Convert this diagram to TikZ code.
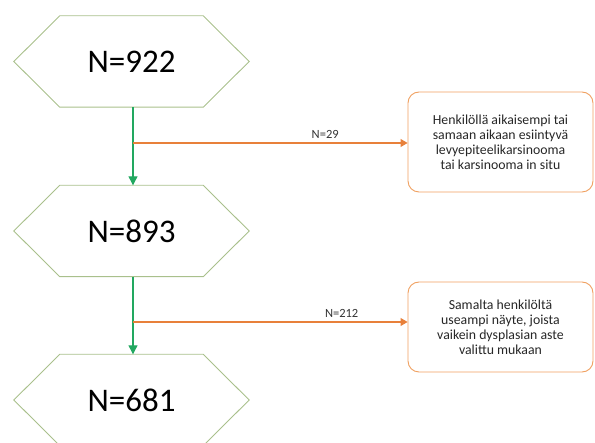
\documentclass[tikz,border=0pt]{standalone}
\usepackage{fontspec}
\setmainfont{Carlito}
\usetikzlibrary{arrows.meta,calc}
\definecolor{hexline}{HTML}{A9C08C}
\definecolor{flowgreen}{HTML}{22A860}
\definecolor{flowor}{HTML}{E8803A}
\definecolor{boxor}{HTML}{F0A060}
\tikzset{
  hexn/.style={draw=none,minimum width=235pt,minimum height=91pt,inner sep=0pt,font=\fontsize{33}{36}\selectfont},
  hexb/.style={draw=hexline,line width=0.9pt,line join=miter},
  garr/.style={draw=flowgreen,line width=1.2pt,-{Triangle[length=9pt,width=9pt]}},
  oarr/.style={draw=flowor,line width=1.1pt,-{Triangle[length=7pt,width=8pt]}},
  notebox/.style={draw=boxor,line width=0.9pt,rounded corners=11pt,minimum width=185pt,align=center,inner sep=4pt,font=\fontsize{13.8}{15}\selectfont,text=black!85},
  lab/.style={font=\fontsize{12.5}{13}\selectfont,text=black!80,above=1pt}
}
\newcommand{\hexdraw}[1]{%
  \draw[hexb] (#1.west) -- ($(#1.north west)+(46pt,0)$) -- ($(#1.north east)+(-46pt,0)$) -- (#1.east) -- ($(#1.south east)+(-46pt,0)$) -- ($(#1.south west)+(46pt,0)$) -- cycle;}
\begin{document}
\begin{tikzpicture}[x=1pt,y=-1pt]
\useasboundingbox (0,0) rectangle (595,443);
\clip (0,0) rectangle (595,443);
\node[hexn] (h1) at (131.5,61.5) {N=922};
\node[hexn] (h2) at (131.5,231) {N=893};
\node[hexn] (h3) at (131.5,400) {N=681};
\hexdraw{h1}
\hexdraw{h2}
\hexdraw{h3}
\node[notebox,minimum height=100pt] (b1) at (500.5,142) {Henkilöllä aikaisempi tai\\samaan aikaan esiintyvä\\levyepiteelikarsinooma\\tai karsinooma in situ};
\node[notebox,minimum height=90pt] (b2) at (500.5,327) {Samalta henkilöltä\\useampi näyte, joista\\vaikein dysplasian aste\\valittu mukaan};
\draw[garr] ($(h1.south)+(1.5,0)$) -- ($(h2.north)+(1.5,0)$);
\draw[garr] ($(h2.south)+(1.5,0)$) -- ($(h3.north)+(1.5,0)$);
\coordinate (c1) at (133,143);
\coordinate (c2) at (133,322);
\draw[oarr] (c1) -- node[lab,pos=0.7] {N=29} (c1 -| b1.west);
\draw[oarr] (c2) -- node[lab,pos=0.76] {N=212} (c2 -| b2.west);
\end{tikzpicture}
\end{document}
